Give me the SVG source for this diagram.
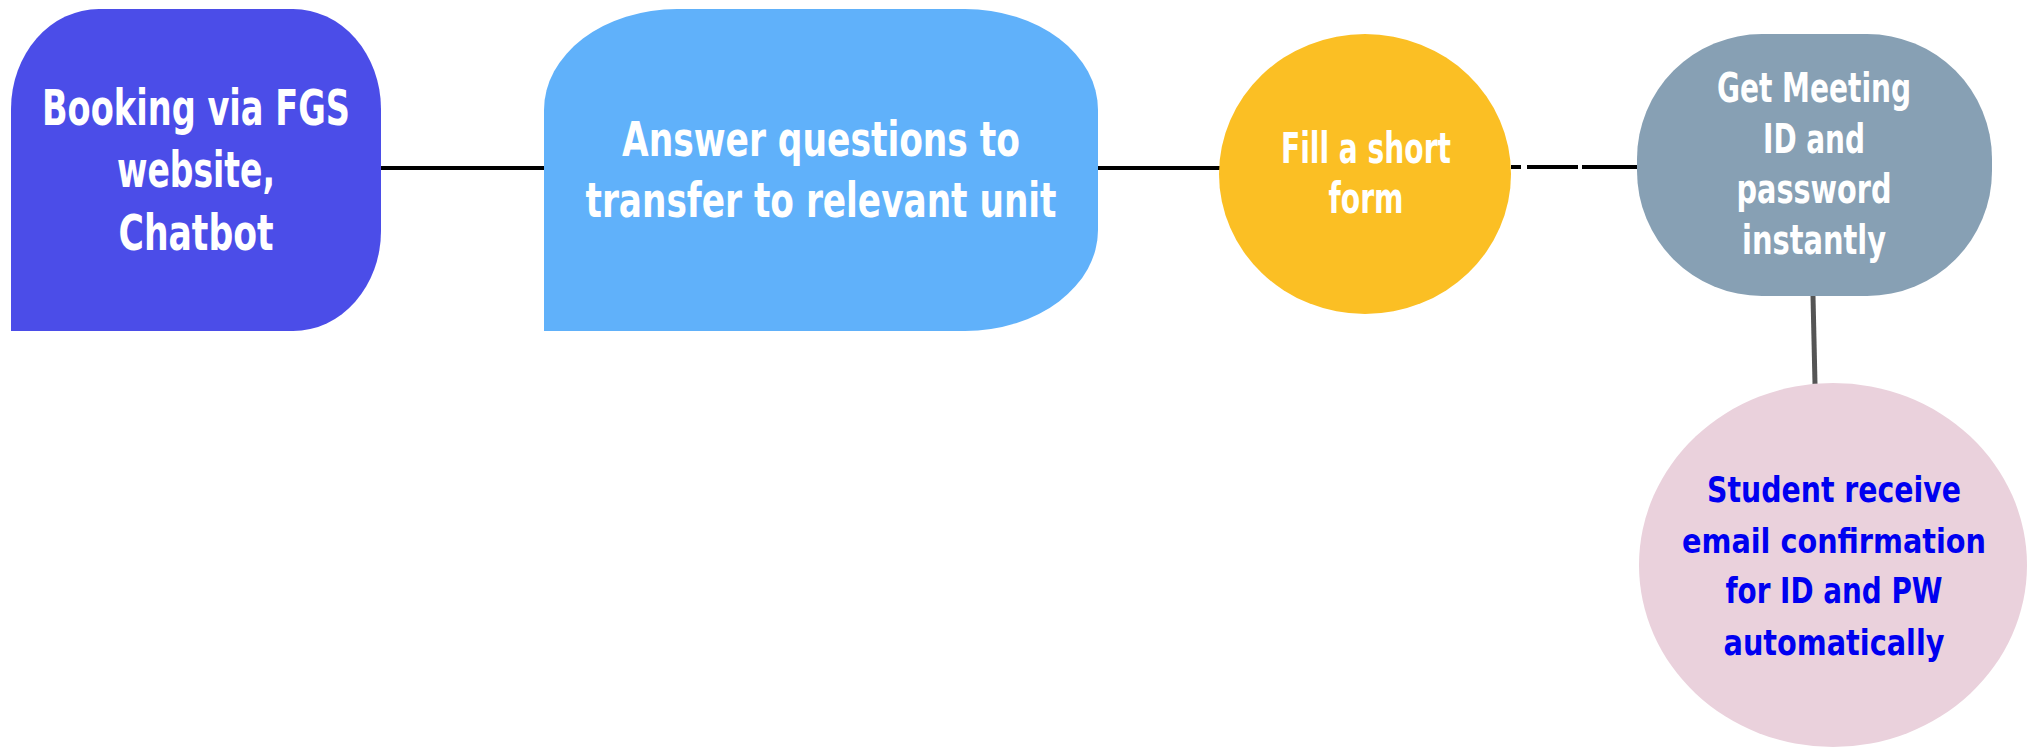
<svg xmlns="http://www.w3.org/2000/svg" width="2040" height="747" viewBox="0 0 2040 747">
<style>
.t{font-family:"Liberation Sans Narrow","DejaVu Sans Condensed","Liberation Sans",sans-serif;text-anchor:middle;fill:#ffffff;font-weight:bold}
.b{fill:#0000f0}
.ln{stroke:#000;stroke-width:4;fill:none}
</style>
<rect width="2040" height="747" fill="#ffffff"/>
<g id="connectors">
<path class="ln" d="M381,168 H544"/>
<path class="ln" d="M1098,168 H1220"/>
<path class="ln" d="M1511,167 H1521 M1527,167 H1578 M1582,167 H1637"/>
<path d="M1813,296 L1815,384" stroke="#555555" stroke-width="5" fill="none"/>
</g>
<g id="node1">
<path d="M11,331 L11,109 A88,100 0 0 1 99,9 L293,9 A88,100 0 0 1 381,109 L381,231 A88,100 0 0 1 293,331 Z" fill="#4b4de8"/>
<text class="t" font-size="50" x="196" y="125" textLength="308" lengthAdjust="spacingAndGlyphs">Booking via FGS</text>
<text class="t" font-size="50" x="196" y="187" textLength="158" lengthAdjust="spacingAndGlyphs">website,</text>
<text class="t" font-size="50" x="196" y="250" textLength="155" lengthAdjust="spacingAndGlyphs">Chatbot</text>
</g>
<g id="node2">
<path d="M544,331 L544,110 A133,101 0 0 1 677,9 L965,9 A133,101 0 0 1 1098,110 L1098,230 A133,101 0 0 1 965,331 Z" fill="#60b1fa"/>
<text class="t" font-size="48" x="821" y="156" textLength="398" lengthAdjust="spacingAndGlyphs">Answer questions to</text>
<text class="t" font-size="48" x="821" y="217" textLength="471" lengthAdjust="spacingAndGlyphs">transfer to relevant unit</text>
</g>
<g id="node3">
<ellipse cx="1365" cy="174" rx="146" ry="140" fill="#fbbf24"/>
<text class="t" font-size="42" x="1366" y="163" textLength="170" lengthAdjust="spacingAndGlyphs">Fill a short</text>
<text class="t" font-size="42" x="1366" y="213" textLength="75" lengthAdjust="spacingAndGlyphs">form</text>
</g>
<g id="node4">
<rect x="1637" y="34" width="355" height="262" rx="125" ry="125" fill="#87a0b4"/>
<text class="t" font-size="41" x="1814" y="102" textLength="194" lengthAdjust="spacingAndGlyphs">Get Meeting</text>
<text class="t" font-size="41" x="1814" y="153" textLength="102" lengthAdjust="spacingAndGlyphs">ID and</text>
<text class="t" font-size="41" x="1814" y="203" textLength="155" lengthAdjust="spacingAndGlyphs">password</text>
<text class="t" font-size="41" x="1814" y="254" textLength="144" lengthAdjust="spacingAndGlyphs">instantly</text>
</g>
<g id="node5">
<ellipse cx="1833" cy="565" rx="194" ry="182" fill="#ead1dc"/>
<text class="t b" font-size="36" x="1834" y="502" textLength="254" lengthAdjust="spacingAndGlyphs">Student receive</text>
<text class="t b" font-size="34" x="1834" y="553" textLength="304" lengthAdjust="spacingAndGlyphs">email confirmation</text>
<text class="t b" font-size="36" x="1834" y="603" textLength="217" lengthAdjust="spacingAndGlyphs">for ID and PW</text>
<text class="t b" font-size="36" x="1834" y="655" textLength="221" lengthAdjust="spacingAndGlyphs">automatically</text>
</g>
</svg>
